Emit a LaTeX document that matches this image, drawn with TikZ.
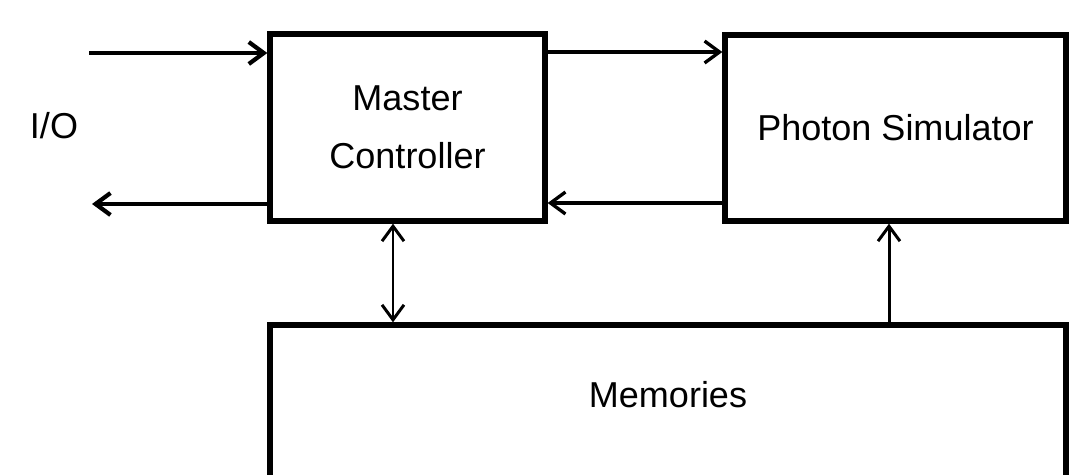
\documentclass[tikz,border=0pt]{standalone}
\usepackage{fontspec}
\setmainfont{Liberation Sans}
\usetikzlibrary{arrows.meta, positioning, calc}
\tikzset{
  every picture/.style={line width=1.9pt},
  box/.style={draw=black, line width=3.1pt, align=center, inner sep=0pt, font=\fontsize{20.5}{33}\selectfont},
  lbl/.style={font=\fontsize{20.5}{33}\selectfont, inner sep=0pt},
  arrow/.style={-{Straight Barb[length=8.5pt, width=12.5pt]}, line width=1.9pt},
  ioarrow/.style={arrow, line width=2.4pt},
  busarrow/.style={arrow, line width=1.7pt},
}

\begin{document}
\begin{tikzpicture}[x=0.02cm, y=-0.02cm]
  \useasboundingbox (0,0) rectangle (1069,474);
  \clip (0,0) rectangle (1069,474);
  % ---- blocks ----
  \node[box, minimum width=5.5cm, minimum height=3.74cm] (mc) at (407.5,127.5) {Master\\Controller};
  \node[box, minimum width=6.82cm, minimum height=3.72cm] (ps) at (895.5,128) {Photon Simulator};
  \node[box, minimum width=15.92cm, minimum height=3.5cm] (mem) at (668,412.5) {};
  \node[lbl] (memtxt) at (668,395) {Memories};
  \node[lbl] (io) at (54,126) {I/O};
  % ---- I/O ----
  \coordinate (ioin) at (89,53);
  \coordinate (ioout) at (92,204);
  \draw[ioarrow] (ioin) -- (mc.west |- ioin);
  \draw[ioarrow] (mc.west |- ioout) -- (ioout);
  % ---- links ----
  \draw[arrow] (mc.east |- 0,52) -- (ps.west |- 0,52);
  \draw[arrow] (ps.west |- 0,203) -- (mc.east |- 0,203);
  \draw[busarrow, {Straight Barb[length=8.5pt, width=12.5pt]}-{Straight Barb[length=8.5pt, width=12.5pt]}] (mc.south -| 393,0) -- (mem.north -| 393,0);
  \draw[busarrow] (mem.north -| 889,0) -- (ps.south -| 889,0);
\end{tikzpicture}
\end{document}
